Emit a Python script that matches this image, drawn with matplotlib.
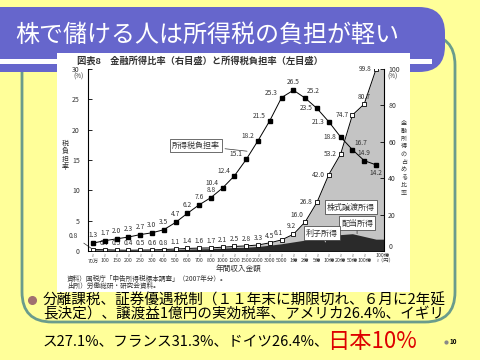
import matplotlib
matplotlib.use("Agg")
import matplotlib.pyplot as plt
import numpy as np
from matplotlib.patches import FancyBboxPatch, Rectangle

plt.rcParams['font.family'] = ['Noto Sans CJK JP', 'DejaVu Sans']

# data
income_labels = ["70万", "100", "150", "200", "250", "300", "400", "500", "600", "700",
                 "800", "1000", "1200", "1500", "2000", "3000", "5000", "1億", "2億",
                 "5億", "10億", "20億", "50億", "100億", "100億"]
tax_burden = [1.3, 1.7, 2.0, 2.3, 2.7, 3.0, 3.5, 4.7, 6.2, 7.6, 8.8, 10.4, 12.4, 15.1,
              18.2, 21.5, 25.3, 26.5, 25.2, 23.5, 21.3, 18.8, 16.7, 14.9, 14.2]
fin_ratio = [0.8, 0.7, 0.5, 0.4, 0.5, 0.6, 0.8, 1.1, 1.4, 1.6, 1.7, 2.1, 2.5, 2.8, 3.3,
             4.5, 6.1, 9.2, 16.0, 26.8, 42.0, 53.2, 74.7, 80.7, 99.8]
# interest + dividend part (dark area), estimated
int_div = [0.5, 0.5, 0.4, 0.3, 0.4, 0.5, 0.6, 0.8, 1.0, 1.2, 1.3, 1.6, 1.9, 2.1, 2.5,
           3.2, 4.0, 5.0, 6.0, 7.0, 8.0, 9.0, 9.5, 8.0, 6.5]

bg_col = '#FFFF99'
fig = plt.figure(figsize=(4.8, 3.6), dpi=100, facecolor=bg_col)

# slide background, pixel coordinates
bg = fig.add_axes([0, 0, 1, 1])
bg.set_xlim(0, 480)
bg.set_ylim(360, 0)
bg.axis('off')
bg.set_facecolor(bg_col)

bg.add_patch(FancyBboxPatch((22, 35), 433, 287, boxstyle="round,pad=0,rounding_size=30",
                            fc='none', ec='#6A9C8C', lw=2.0, zorder=1))
bg.add_patch(FancyBboxPatch((-40, 7), 485, 65, boxstyle="round,pad=0,rounding_size=26",
                            fc='#6666CC', ec='none', zorder=2))
bg.add_patch(Rectangle((0, 58.5), 432, 5, fc='white', ec='none', zorder=3))
bg.text(15, 35, "株で儲ける人は所得税の負担が軽い", color='white', fontsize=17.3,
        va='center', ha='left', zorder=4)

# the pasted chart image
bg.add_patch(Rectangle((57, 53), 353, 239, fc='white', ec='none', zorder=5))
bg.text(77, 61, "図表8　金融所得比率（右目盛）と所得税負担率（左目盛）", fontsize=6.7,
        fontweight='bold', color='#333333', va='center', ha='left', zorder=6)
bg.text(65, 155, "\n".join("税負担率"), fontsize=5, linespacing=0.95, ha='center',
        va='center', color='#333333', zorder=6)
bg.text(404, 158, "\n".join("金融所得の占める比率"), fontsize=4.4, linespacing=0.95,
        ha='center', va='center', color='#333333', zorder=6)
bg.text(78, 77, "(%)", fontsize=4.5, ha='center', va='center', color='#333333', zorder=6)
bg.text(393, 77, "(%)", fontsize=4.5, ha='center', va='center', color='#333333', zorder=6)
bg.text(238, 269, "年間収入金額", fontsize=5.5, ha='center', va='center',
        color='#333333', zorder=6)
bg.text(67, 279, "資料）国税庁「申告所得税標本調査」（2007年分）。", fontsize=4.8,
        ha='left', va='center', color='#333333', zorder=6)
bg.text(67, 285.5, "出所）労働総研・研究会資料。", fontsize=4.8,
        ha='left', va='center', color='#333333', zorder=6)

# bullet text
bg.plot([32], [300], marker='o', ms=5.5, color='#A07070', zorder=6)
bg.text(43, 300, "分離課税、証券優遇税制（１１年末に期限切れ、６月に2年延", fontsize=10.5,
        ha='left', va='center', color='black', zorder=6)
bg.text(43, 314, "長決定）、譲渡益1億円の実効税率、アメリカ26.4%、イギリ", fontsize=10.5,
        ha='left', va='center', color='black', zorder=6)
bg.text(43, 342, "ス27.1%、フランス31.3%、ドイツ26.4%、", fontsize=10.5,
        ha='left', va='center', color='black', zorder=6)
bg.text(327, 341, "日本10%", fontsize=16, ha='left', va='center', color='#DD0000', zorder=6)
bg.plot([446], [342], marker='o', ms=2, color='#888888', zorder=6)
bg.text(449, 342, "10", fontsize=4.5, fontweight='bold', ha='left', va='center', zorder=6)

# chart axes
x = np.arange(len(income_labels))
ax = fig.add_axes([88 / 480, 1 - 251 / 360, 296 / 480, 182 / 360])
ax2 = ax.twinx()
ax.set_zorder(ax2.get_zorder() + 1)
ax.patch.set_visible(False)
ax2.patch.set_visible(False)
xmax = 24.68
ax.set_xlim(-0.42, xmax)
ax.set_ylim(0, 30)
ax2.set_ylim(0, 100)

xe = np.append(x, xmax)
ax2.fill_between(xe, np.append(fin_ratio, fin_ratio[-1]), color='#C4C4C4', lw=0)
ax2.fill_between(xe, np.append(int_div, int_div[-1]), color='#2A2A2A', lw=0)
ax2.plot(x, fin_ratio, color='black', lw=0.7, marker='s', ms=2.6, mfc='white', mew=0.6)
ax.plot(x, tax_burden, color='black', lw=0.7, marker='s', ms=2.8, mfc='black')

lab = dict(fontsize=4.8, color='#333333', textcoords='offset pixels')
for i, v in enumerate(tax_burden):
    if i < 11:
        off, ha, va = (0, 4), 'center', 'bottom'
    elif i <= 16:
        off, ha, va = (-4, 1), 'right', 'bottom'
    elif i == 17 or i == 23:
        off, ha, va = (0, 4), 'center', 'bottom'
    elif i in (18, 22):
        off, ha, va = (2, 3), 'left', 'bottom'
    elif i == 24:
        off, ha, va = (0, -4), 'center', 'top'
    else:
        off, ha, va = (-4, 0), 'right', 'center'
    ax.annotate(f"{v:.1f}", (i, v), xytext=off, ha=ha, va=va, **lab)

for i, v in enumerate(fin_ratio):
    if i == 0:
        ax2.annotate(f"{v:.1f}", (i, v), xytext=(-20, 14), ha='center', va='center',
                     arrowprops=dict(arrowstyle='-', lw=0.5, color='#333333',
                                     shrinkA=3, shrinkB=1), **lab)
        continue
    if i <= 15 or i == 23:
        off, ha, va = (0, 3), 'center', 'bottom'
    elif i == 16:
        off, ha, va = (-3, 3), 'center', 'bottom'
    elif i == 17:
        off, ha, va = (-2, 4), 'center', 'bottom'
    elif i == 18:
        off, ha, va = (-2, 3), 'right', 'bottom'
    else:
        off, ha, va = (-4, 0), 'right', 'center'
    ax2.annotate(f"{v:.1f}", (i, v), xytext=off, ha=ha, va=va, **lab)

# area / line callouts
box = dict(boxstyle='square,pad=0.25', fc='white', ec='#333333', lw=0.5)
ax.annotate("所得税負担率", (13.3, 16.4), xytext=(196, 145.5), textcoords=bg.transData,
            fontsize=5.8, ha='center', va='center', bbox=box, color='#333333',
            arrowprops=dict(arrowstyle='-', lw=0.5, color='#333333'))
ax2.annotate("株式譲渡所得", (21, 30), xytext=(351, 207), textcoords=bg.transData,
             fontsize=5.8, ha='center', va='center', bbox=box, color='#333333')
ax2.annotate("配当所得", (22.4, 8.0), xytext=(357, 223), textcoords=bg.transData,
             fontsize=5.8, ha='center', va='center', bbox=box, color='#333333',
             arrowprops=dict(arrowstyle='-', lw=0.5, color='#333333', shrinkA=0))
ax2.annotate("利子所得", (19.8, 3.5), xytext=(322, 233), textcoords=bg.transData,
             fontsize=5.8, ha='center', va='center', bbox=box, color='#333333',
             arrowprops=dict(arrowstyle='-', lw=0.5, color='white', shrinkA=0))

# axes styling
for a in (ax, ax2):
    a.spines['top'].set_visible(False)
ax.spines['right'].set_visible(False)
ax2.spines['left'].set_visible(False)
ax2.spines['bottom'].set_visible(False)
ax.spines['left'].set_linewidth(0.8)
ax.spines['bottom'].set_linewidth(0.6)
ax2.spines['right'].set_linewidth(0.8)

ax.set_yticks([0, 5, 10, 15, 20, 25, 30])
ax.tick_params(axis='y', direction='in', length=3, width=0.6, labelsize=5,
               labelcolor='#333333', pad=6)
ax2.set_yticks([0, 20, 40, 60, 80, 100])
ax2.tick_params(axis='y', direction='in', length=3, width=0.6, labelsize=5,
                labelcolor='#333333', pad=3)
ax2.get_yticklabels()[0].set_va('bottom')

tick_text = ["≀\n" + s for s in income_labels[:-1]] + [income_labels[-1] + "\n≀（円）"]
ax.set_xticks(x)
ax.set_xticklabels(tick_text, fontsize=3.8, linespacing=1.1, color='#333333')
ax.tick_params(axis='x', length=0, pad=1.5)
ax.get_xticklabels()[-1].set_ha('left')

fig.savefig("out.png", dpi=100, facecolor=bg_col)
